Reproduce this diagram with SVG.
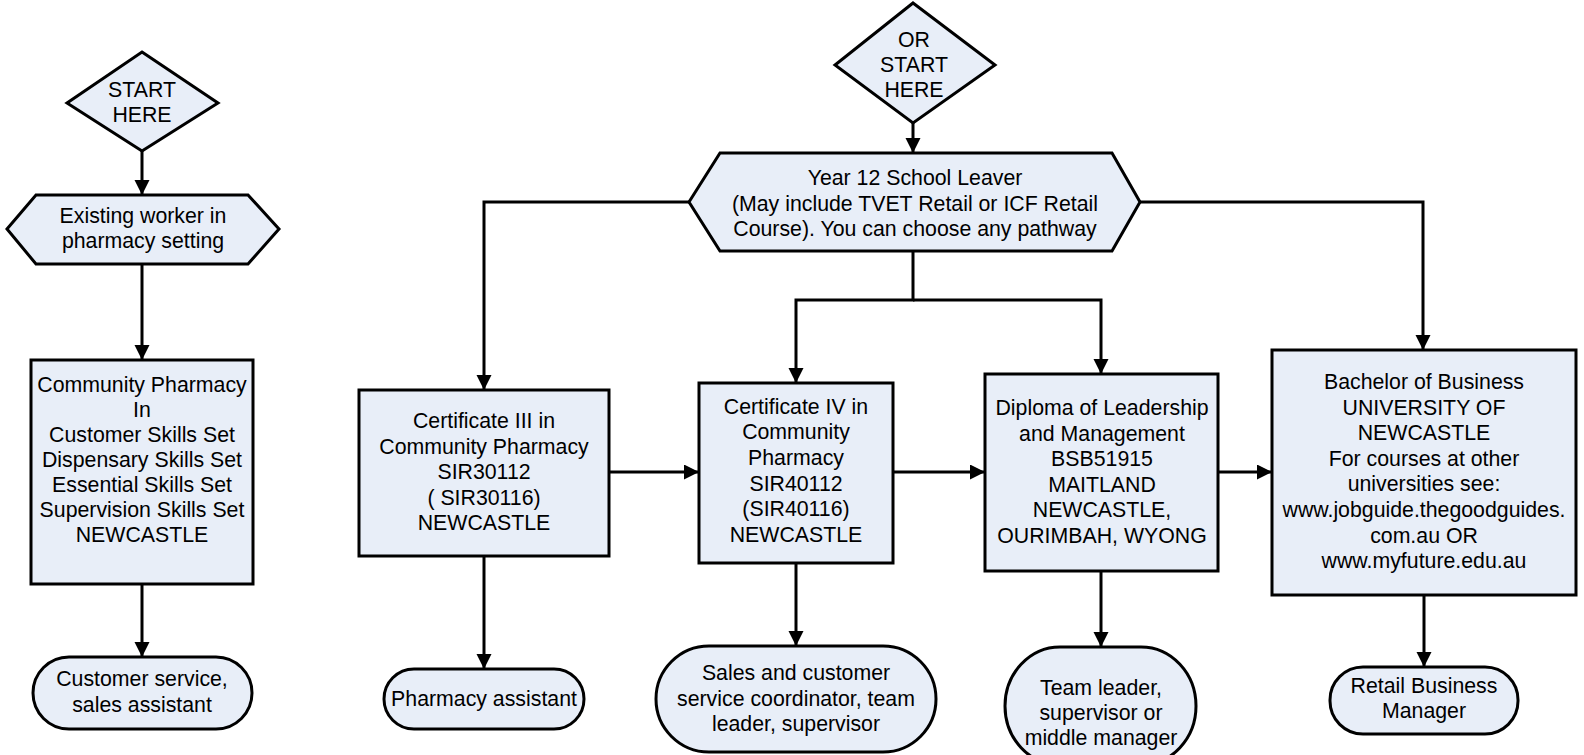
<svg xmlns="http://www.w3.org/2000/svg" width="1584" height="755" viewBox="0 0 1584 755">
<style>
.n{fill:#E8EEF8;stroke:#000;stroke-width:3;stroke-linejoin:miter}
.t{font-family:"Liberation Sans",Arial,sans-serif;font-size:21.3px;fill:#000;text-anchor:middle}
.c{fill:none;stroke:#000;stroke-width:3}
</style>
<defs>
<marker id="ah" markerUnits="userSpaceOnUse" markerWidth="16" markerHeight="16" refX="14" refY="7.5" orient="auto">
<path d="M0,0 L15,7.5 L0,15 z" fill="#000"/>
</marker>
</defs>
<rect width="1584" height="755" fill="#fff"/>

<g id="connectors">
<path class="c" d="M142,151 V194" marker-end="url(#ah)"/>
<path class="c" d="M142,264 V359" marker-end="url(#ah)"/>
<path class="c" d="M142,584 V656" marker-end="url(#ah)"/>
<path class="c" d="M913,123 V152" marker-end="url(#ah)"/>
<path class="c" d="M689,202 H484 V389" marker-end="url(#ah)"/>
<path class="c" d="M1140,202 H1423 V349" marker-end="url(#ah)"/>
<path class="c" d="M913,251 V300 H796 V382" marker-end="url(#ah)"/>
<path class="c" d="M913,300 H1101 V373" marker-end="url(#ah)"/>
<path class="c" d="M609,472 H698" marker-end="url(#ah)"/>
<path class="c" d="M893,472 H984" marker-end="url(#ah)"/>
<path class="c" d="M1218,472 H1271" marker-end="url(#ah)"/>
<path class="c" d="M484,556 V668" marker-end="url(#ah)"/>
<path class="c" d="M796,563 V645" marker-end="url(#ah)"/>
<path class="c" d="M1101,571 V646" marker-end="url(#ah)"/>
<path class="c" d="M1424,595 V666" marker-end="url(#ah)"/>
</g>

<g id="start1">
<polygon class="n" points="142,52 218,103 142,151 67,103"/>
<text class="t" x="142" y="97">START</text>
<text class="t" x="142" y="122">HERE</text>
</g>

<g id="existing">
<polygon class="n" points="7,229 36,195 248,195 279,229 248,264 36,264"/>
<text class="t" x="143" y="223">Existing worker in</text>
<text class="t" x="143" y="248">pharmacy setting</text>
</g>

<g id="skillsets">
<rect class="n" x="31" y="360" width="222" height="224"/>
<text class="t" x="142" y="392">Community Pharmacy</text>
<text class="t" x="142" y="417">In</text>
<text class="t" x="142" y="442">Customer Skills Set</text>
<text class="t" x="142" y="467">Dispensary Skills Set</text>
<text class="t" x="142" y="492">Essential Skills Set</text>
<text class="t" x="142" y="517">Supervision Skills Set</text>
<text class="t" x="142" y="542">NEWCASTLE</text>
</g>

<g id="customerservice">
<rect class="n" x="33" y="657" width="219" height="72" rx="36" ry="36"/>
<text class="t" x="142" y="686">Customer service,</text>
<text class="t" x="142" y="712">sales assistant</text>
</g>

<g id="start2">
<polygon class="n" points="913,3 995,65 913,123 835,65"/>
<text class="t" x="914" y="47">OR</text>
<text class="t" x="914" y="72">START</text>
<text class="t" x="914" y="97">HERE</text>
</g>

<g id="year12">
<polygon class="n" points="689,202 720,153 1112,153 1140,202 1112,251 720,251"/>
<text class="t" x="915" y="185">Year 12 School Leaver</text>
<text class="t" x="915" y="211">(May include TVET Retail or ICF Retail</text>
<text class="t" x="915" y="236">Course). You can choose any pathway</text>
</g>

<g id="cert3">
<rect class="n" x="359" y="390" width="250" height="166"/>
<text class="t" x="484" y="428">Certificate III in</text>
<text class="t" x="484" y="453.5">Community Pharmacy</text>
<text class="t" x="484" y="479">SIR30112</text>
<text class="t" x="484" y="504.5">( SIR30116)</text>
<text class="t" x="484" y="530">NEWCASTLE</text>
</g>

<g id="cert4">
<rect class="n" x="699" y="383" width="194" height="180"/>
<text class="t" x="796" y="413.5">Certificate IV in</text>
<text class="t" x="796" y="439.2">Community</text>
<text class="t" x="796" y="464.9">Pharmacy</text>
<text class="t" x="796" y="490.6">SIR40112</text>
<text class="t" x="796" y="516.3">(SIR40116)</text>
<text class="t" x="796" y="542">NEWCASTLE</text>
</g>

<g id="diploma">
<rect class="n" x="985" y="374" width="233" height="197"/>
<text class="t" x="1102" y="415">Diploma of Leadership</text>
<text class="t" x="1102" y="440.6">and Management</text>
<text class="t" x="1102" y="466.2">BSB51915</text>
<text class="t" x="1102" y="491.8">MAITLAND</text>
<text class="t" x="1102" y="517.4">NEWCASTLE,</text>
<text class="t" x="1102" y="543">OURIMBAH, WYONG</text>
</g>

<g id="bachelor">
<rect class="n" x="1272" y="350" width="304" height="245"/>
<text class="t" x="1424" y="389">Bachelor of Business</text>
<text class="t" x="1424" y="414.6">UNIVERSITY OF</text>
<text class="t" x="1424" y="440.2">NEWCASTLE</text>
<text class="t" x="1424" y="465.8">For courses at other</text>
<text class="t" x="1424" y="491.4">universities see:</text>
<text class="t" x="1424" y="517">www.jobguide.thegoodguides.</text>
<text class="t" x="1424" y="542.6">com.au OR</text>
<text class="t" x="1424" y="568.2">www.myfuture.edu.au</text>
</g>

<g id="pharmacyassistant">
<rect class="n" x="384" y="669" width="200" height="60" rx="30" ry="30"/>
<text class="t" x="484" y="706">Pharmacy assistant</text>
</g>

<g id="salescoordinator">
<rect class="n" x="656" y="646" width="280" height="106" rx="53" ry="53"/>
<text class="t" x="796" y="680">Sales and customer</text>
<text class="t" x="796" y="706">service coordinator, team</text>
<text class="t" x="796" y="731">leader, supervisor</text>
</g>

<g id="teamleader">
<rect class="n" x="1005" y="647" width="191" height="118" rx="55" ry="59"/>
<text class="t" x="1101" y="695">Team leader,</text>
<text class="t" x="1101" y="720">supervisor or</text>
<text class="t" x="1101" y="745">middle manager</text>
</g>

<g id="retailmanager">
<rect class="n" x="1330" y="667" width="188" height="67" rx="33" ry="33"/>
<text class="t" x="1424" y="693">Retail Business</text>
<text class="t" x="1424" y="718">Manager</text>
</g>
</svg>
